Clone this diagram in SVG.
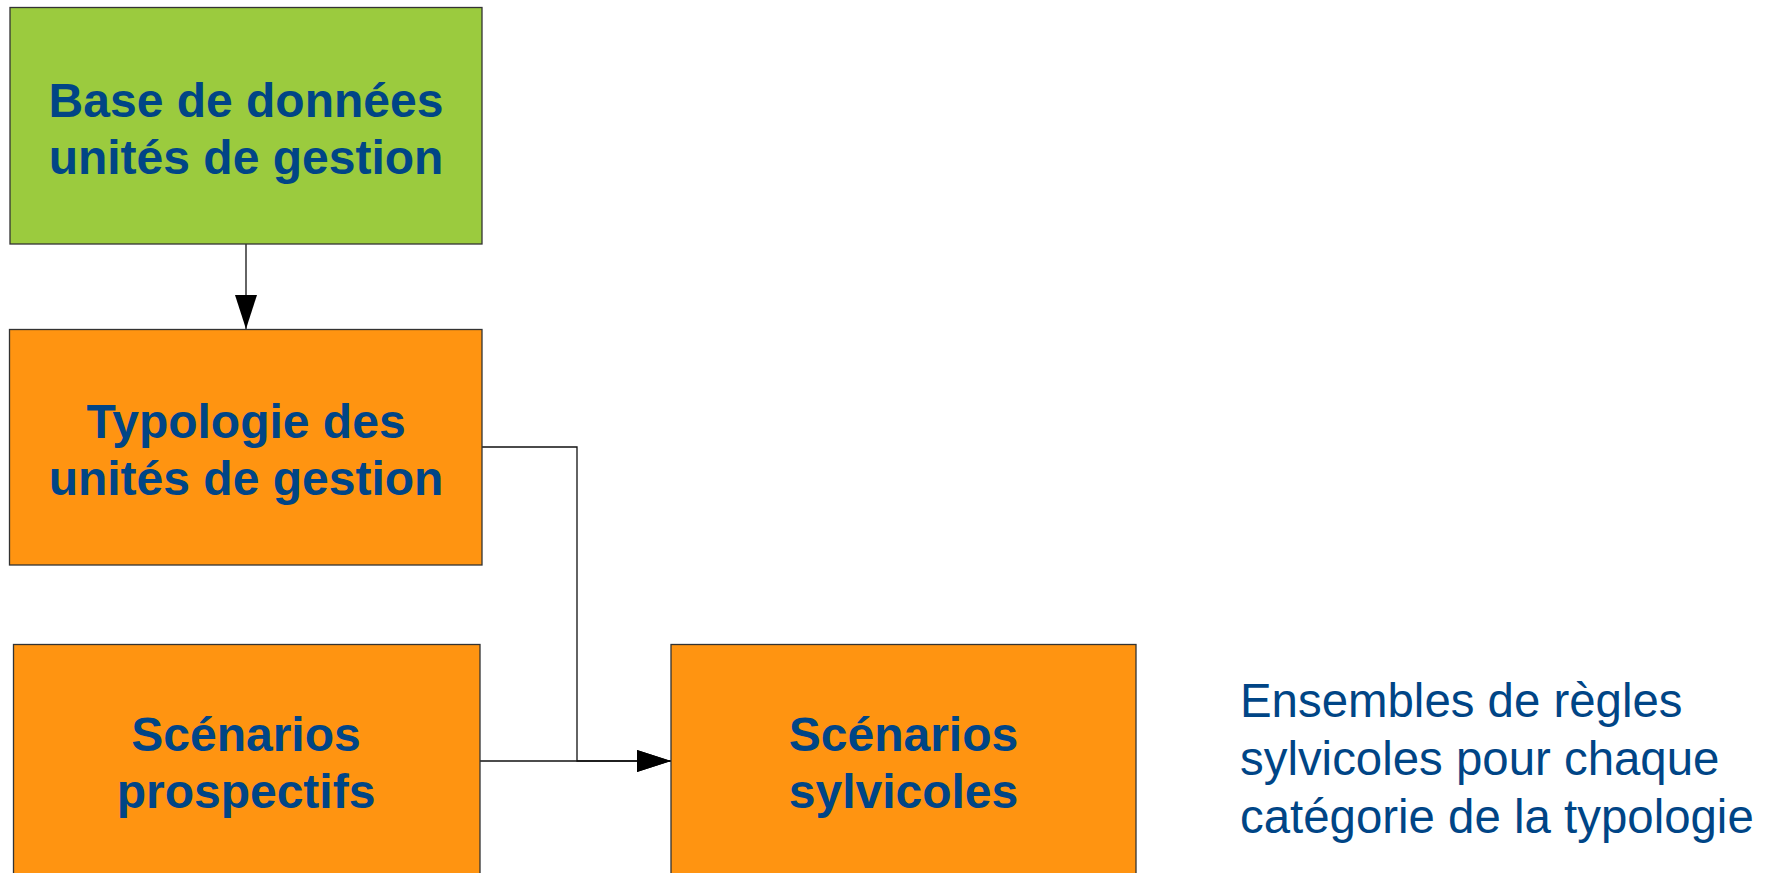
<svg xmlns="http://www.w3.org/2000/svg" width="1771" height="873" viewBox="0 0 1771 873">
<style>
.box{stroke:#333;stroke-width:1.3}
.green{fill:#9bcb3e}
.orange{fill:#ff9411}
.bt{font-family:"Liberation Sans",Arial,sans-serif;font-weight:bold;font-size:48px;fill:#004586;text-anchor:middle}
.rt{font-family:"Liberation Sans",Arial,sans-serif;font-size:47.4px;fill:#004586}
.con{fill:none;stroke:#111;stroke-width:1.3}
</style>
<defs>
<marker id="arr" markerUnits="userSpaceOnUse" markerWidth="34" markerHeight="22" refX="34" refY="11" orient="auto">
<path d="M0,0 L34,11 L0,22 Z" fill="#000"/>
</marker>
</defs>
<rect width="1771" height="873" fill="#fff"/>
<g id="connectors">
<path class="con" d="M246,244 L246,329" marker-end="url(#arr)"/>
<path class="con" d="M480,761 L671,761" marker-end="url(#arr)"/>
<path class="con" d="M482,447 L577,447 L577,761 L671,761" marker-end="url(#arr)"/>
</g>
<g id="base">
<rect class="box green" x="10" y="7.5" width="472" height="236.5"/>
<text class="bt" x="246" y="117">Base de données</text>
<text class="bt" x="246" y="174">unités de gestion</text>
</g>
<g id="typologie">
<rect class="box orange" x="9.5" y="329.5" width="472.5" height="235.5"/>
<text class="bt" x="246" y="438">Typologie des</text>
<text class="bt" x="246" y="495">unités de gestion</text>
</g>
<g id="prospectifs">
<rect class="box orange" x="13.5" y="644.5" width="466.5" height="236"/>
<text class="bt" x="246" y="751">Scénarios</text>
<text class="bt" x="246" y="808">prospectifs</text>
</g>
<g id="sylvicoles">
<rect class="box orange" x="671" y="644.5" width="465" height="236"/>
<text class="bt" x="903.5" y="751">Scénarios</text>
<text class="bt" x="903.5" y="808">sylvicoles</text>
</g>
<g id="note">
<text class="rt" x="1240" y="717">Ensembles de règles</text>
<text class="rt" x="1240" y="775">sylvicoles pour chaque</text>
<text class="rt" x="1240" y="833">catégorie de la typologie</text>
</g>
</svg>
